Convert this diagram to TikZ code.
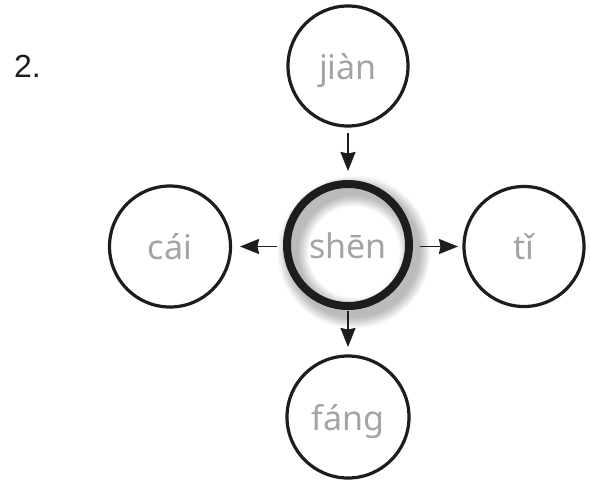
\documentclass[tikz,border=0pt]{standalone}
\usepackage{fontspec}
\setmainfont{Liberation Sans}
\newfontfamily\pin{Noto Sans}
\usetikzlibrary{arrows.meta}
\definecolor{pingray}{RGB}{162,164,168}
\definecolor{inkblack}{RGB}{30,28,28}
\tikzset{
  word/.style={circle, draw=inkblack, line width=3.2pt, outer sep=0pt, inner sep=0pt,
    text=pingray, font=\pin\fontsize{34}{40}\selectfont, text height=26pt, text depth=0pt},
  hub/.style={word, line width=8pt},
  arr/.style={draw=inkblack, line width=1.8pt, -{Stealth[length=19pt,width=15pt,inset=1.5pt]}}
}
\begin{document}
\begin{tikzpicture}[x=1pt,y=-1pt]
\useasboundingbox[fill=white] (0,0) rectangle (590,483);
\node[anchor=base west, inner sep=0pt, font=\fontsize{32}{38}\selectfont, text=inkblack] (num) at (14,77) {2.};
% shadow of the hub ring
\coordinate (sh) at (354,252);
\foreach \k in {1,...,12}{
  \draw[line width={8pt+1.9pt*\k}, draw=black, draw opacity=0.025] (sh) circle[radius=61pt];
}
\node[word, minimum size=120pt] (jian) at (348,66) {jiàn};
\node[hub, minimum size=122pt] (shen) at (348,245) {shēn};
\node[word, minimum size=121pt] (cai) at (170,246.5) {cái};
\node[word, minimum size=120pt] (ti) at (524,246.5) {tǐ};
\node[word, minimum size=122pt] (fang) at (348,417) {fáng};
\draw[arr, shorten <=7pt, shorten >=13pt] (jian.south) -- (shen.north);
\draw[arr, shorten <=10pt, shorten >=9.5pt] (shen.west |- cai.east) -- (cai.east);
\draw[arr, shorten <=11pt, shorten >=6pt] (shen.east |- ti.west) -- (ti.west);
\draw[arr, shorten <=5pt, shorten >=9pt] (shen.south) -- (fang.north);
\end{tikzpicture}
\end{document}
